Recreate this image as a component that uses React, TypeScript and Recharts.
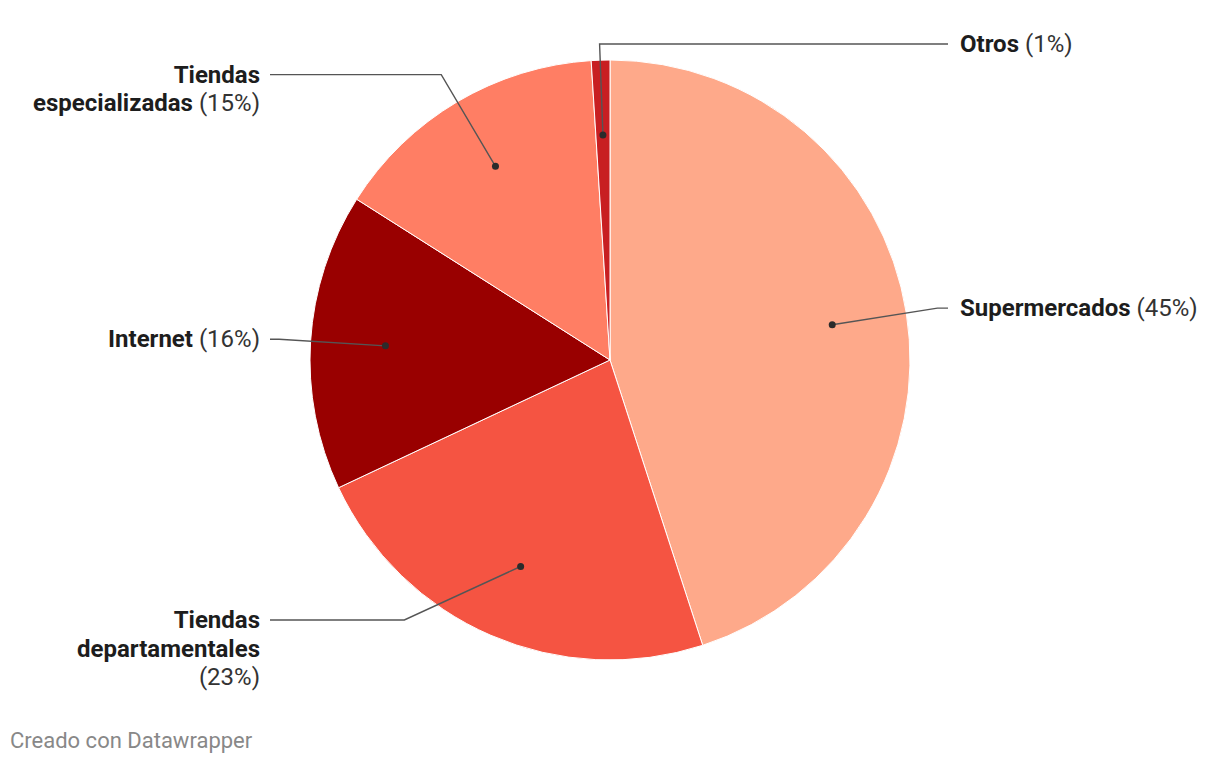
import React from 'react';
import { PieChart, Pie, Cell } from 'recharts';

const categories = ['Supermercados', 'Tiendas departamentales', 'Internet', 'Tiendas especializadas', 'Otros'];
const shares = [45, 23, 16, 15, 1];
const colors = ['#fea98a', '#f55442', '#990000', '#ff7e64', '#c81f22'];
const footerText = 'Creado con Datawrapper';

const data = categories.map((name, i) => ({ name, value: shares[i] }));

const FONT = 'Roboto, "Noto Sans", sans-serif';
const FONT_SIZE = 24;
const LINE_H = 28.5;
const MAX_CHARS = 20;

type Tok = { text: string; bold: boolean };

function wrap(name: string, pct: string): Tok[][] {
  const toks: Tok[] = [
    ...name.split(' ').map((w) => ({ text: w, bold: true })),
    { text: pct, bold: false },
  ];
  const lines: Tok[][] = [];
  let cur: Tok[] = [];
  let len = 0;
  for (const t of toks) {
    const add = (cur.length ? 1 : 0) + t.text.length;
    if (cur.length && len + add > MAX_CHARS) {
      lines.push(cur);
      cur = [t];
      len = t.text.length;
    } else {
      cur.push(t);
      len += add;
    }
  }
  if (cur.length) lines.push(cur);
  return lines;
}

const RAD = Math.PI / 180;

const renderLabel = (props: any) => {
  const { cx, cy, midAngle, outerRadius, name, value } = props;
  const R = outerRadius;
  const c = Math.cos(midAngle * RAD);
  const s = Math.sin(midAngle * RAD);
  const dotX = cx + c * R * 0.75;
  const dotY = cy - s * R * 0.75;
  const rE = R * 1.105;
  const lines = wrap(name, `(${value}%)`);
  const n = lines.length;
  let ey = cy - s * rE;
  const minY = cy - R - 16;
  const maxY = cy + R + 16 - (n - 1) * 28;
  let clamped = false;
  if (ey < minY) { ey = minY; clamped = true; }
  if (ey > maxY) { ey = maxY; clamped = true; }
  let ex = cx + c * rE;
  if (clamped && Math.abs(c) > 0.2) {
    const dy = ey - cy;
    ex = cx + Math.sign(c) * Math.sqrt(Math.max(0, rE * rE - dy * dy));
  }
  const right = c >= -0.1;
  const endX = right ? cx + R + 38 : cx - R - 40;
  const textX = right ? cx + R + 50 : cx - R - 50;
  return (
    <g>
      <polyline
        points={`${dotX},${dotY} ${ex},${ey} ${endX},${ey}`}
        fill="none"
        stroke="#555555"
        strokeWidth={1.4}
      />
      <circle cx={dotX} cy={dotY} r={3.5} fill="#2b2b2b" />
      <text
        x={textX}
        y={ey}
        textAnchor={right ? 'start' : 'end'}
        fontFamily={FONT}
        fontSize={FONT_SIZE}
        fill="#1d1d1d"
      >
        {lines.map((ln, li) => (
          <tspan key={li} x={textX} y={ey + 8 + li * LINE_H}>
            {ln.map((t, ti) => (
              <tspan key={ti} fontWeight={t.bold ? 700 : 400} fill={t.bold ? '#1d1d1d' : '#333333'}>
                {(ti > 0 ? ' ' : '') + t.text}
              </tspan>
            ))}
          </tspan>
        ))}
      </text>
    </g>
  );
};

export default function App() {
  return (
    <div style={{ position: 'absolute', left: 0, top: 0, width: 1220, height: 766, background: '#ffffff' }}>
      <PieChart width={1220} height={766} margin={{ top: 0, right: 0, bottom: 0, left: 0 }}>
        <Pie
          data={data}
          dataKey="value"
          nameKey="name"
          cx={610}
          cy={360}
          outerRadius={300}
          innerRadius={0}
          startAngle={90}
          endAngle={-270}
          stroke="#ffffff"
          strokeWidth={1}
          label={renderLabel}
          labelLine={false}
          isAnimationActive={false}
        >
          {data.map((d, i) => (
            <Cell key={d.name} fill={colors[i]} />
          ))}
        </Pie>
      </PieChart>
      <div
        style={{
          position: 'absolute',
          left: 10,
          top: 728,
          fontFamily: FONT,
          fontSize: 22,
          color: '#888888',
          whiteSpace: 'nowrap',
        }}
      >
        {footerText}
      </div>
    </div>
  );
}
